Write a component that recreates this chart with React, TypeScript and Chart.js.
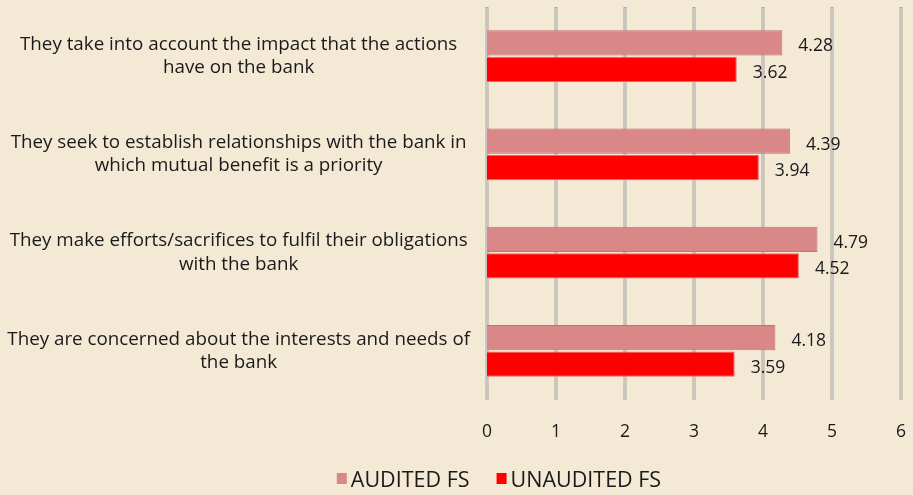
import React, { useEffect, useRef } from "react";
import { Chart, registerables } from "chart.js";

Chart.register(...registerables);

const categories: string[][] = [
  ["They take into account the impact that the actions", "have on the bank"],
  ["They seek to establish relationships with the bank in", "which mutual benefit is a priority"],
  ["They make efforts/sacrifices to fulfil their obligations", "with the bank"],
  ["They are concerned about the interests and needs of", "the bank"],
];
const auditedFS = [4.28, 4.39, 4.79, 4.18];
const unauditedFS = [3.62, 3.94, 4.52, 3.59];
const xTicks = [0, 1, 2, 3, 4, 5, 6];
const seriesNames = ["AUDITED FS", "UNAUDITED FS"];

const FONT = "'Open Sans', Lato, sans-serif";
const BG = "#F4E9D5";
const TEXT = "#1a1a1a";

const gridPlugin = {
  id: "gridLines3d",
  beforeDatasetsDraw(chart: any) {
    const ctx = chart.ctx;
    const x = chart.scales.x;
    const area = chart.chartArea;
    ctx.save();
    xTicks.forEach((v) => {
      const px = Math.round(x.getPixelForValue(v));
      ctx.fillStyle = "#A9A7A2";
      ctx.fillRect(px - 1.5, area.top, 3, area.bottom - area.top);
      ctx.fillStyle = "#E6E3DC";
      ctx.fillRect(px - 0.5, area.top + 1, 1, area.bottom - area.top - 1);
    });
    ctx.restore();
  },
};

const valueLabels = {
  id: "valueLabels",
  afterDatasetsDraw(chart: any) {
    const ctx = chart.ctx;
    ctx.save();
    ctx.font = `17.5px ${FONT}`;
    ctx.fillStyle = TEXT;
    ctx.textAlign = "left";
    ctx.textBaseline = "middle";
    chart.data.datasets.forEach((ds: any, di: number) => {
      const meta = chart.getDatasetMeta(di);
      meta.data.forEach((bar: any, i: number) => {
        ctx.fillText(ds.data[i].toFixed(2), bar.x + 16, bar.y + 3.5);
      });
    });
    ctx.restore();
  },
};

const legendPlugin = {
  id: "customLegend",
  afterDraw(chart: any) {
    const ctx = chart.ctx;
    ctx.save();
    ctx.font = `21.5px ${FONT}`;
    ctx.textBaseline = "middle";
    ctx.textAlign = "left";
    const box = 10;
    const gap = 4;
    const between = 27;
    const items = chart.data.datasets.map((ds: any) => ({
      text: ds.label,
      color: ds.backgroundColor,
      w: ctx.measureText(ds.label).width,
    }));
    const total = items.reduce((s: number, it: any) => s + box + gap + it.w, 0) + between * (items.length - 1);
    const centerX = 499;
    const cy = 479;
    let x = centerX - total / 2;
    items.forEach((it: any) => {
      ctx.fillStyle = it.color;
      ctx.fillRect(x, cy - 6, box, 11);
      ctx.fillStyle = TEXT;
      ctx.fillText(it.text, x + box + gap, cy + 1.5);
      x += box + gap + it.w + between;
    });
    ctx.restore();
  },
};

const bgPlugin = {
  id: "bg",
  beforeDraw(chart: any) {
    const ctx = chart.ctx;
    ctx.save();
    ctx.fillStyle = BG;
    ctx.fillRect(0, 0, chart.width, chart.height);
    ctx.restore();
  },
};

export default function App() {
  const ref = useRef<HTMLCanvasElement | null>(null);
  useEffect(() => {
    if (!ref.current) return;
    const chart = new Chart(ref.current, {
      type: "bar",
      data: {
        labels: categories,
        datasets: [
          {
            label: seriesNames[0],
            data: auditedFS,
            backgroundColor: "#D98787",
            borderColor: "#BE7272",
            borderWidth: 1,
            categoryPercentage: 0.54,
            barPercentage: 0.95,
          },
          {
            label: seriesNames[1],
            data: unauditedFS,
            backgroundColor: "#FF0000",
            borderColor: "#E46A6A",
            borderWidth: 1,
            categoryPercentage: 0.54,
            barPercentage: 0.95,
          },
        ],
      },
      options: {
        indexAxis: "y",
        animation: false,
        responsive: false,
        maintainAspectRatio: false,
        layout: { padding: { left: 0, right: 12, top: 7, bottom: 55 } },
        scales: {
          x: {
            min: 0,
            max: 6,
            afterBuildTicks: (axis: any) => {
              axis.ticks = xTicks.map((v) => ({ value: v }));
            },
            afterFit: (axis: any) => {
              axis.height = 40;
              axis.paddingLeft = 0;
              axis.paddingRight = 0;
            },
            grid: { display: false, drawTicks: false },
            border: { display: false },
            ticks: {
              padding: 22,
              color: TEXT,
              font: { family: FONT, size: 17.5 },
            },
          },
          y: {
            afterFit: (axis: any) => {
              axis.width = 487;
              axis.paddingTop = 0;
              axis.paddingBottom = 0;
            },
            grid: { display: false, drawTicks: false },
            border: { display: false },
            ticks: {
              crossAlign: "center",
              padding: 17,
              color: TEXT,
              font: { family: FONT, size: 18.8, lineHeight: 1.23 },
            },
          },
        },
        plugins: {
          legend: { display: false },
          tooltip: { enabled: false },
        },
      },
      plugins: [bgPlugin, gridPlugin, valueLabels, legendPlugin],
    });
    return () => chart.destroy();
  }, []);
  return (
    <div style={{ position: "fixed", left: 0, top: 0, width: 913, height: 495, background: BG }}>
      <canvas ref={ref} width={913} height={495} style={{ width: 913, height: 495, display: "block" }} />
    </div>
  );
}
